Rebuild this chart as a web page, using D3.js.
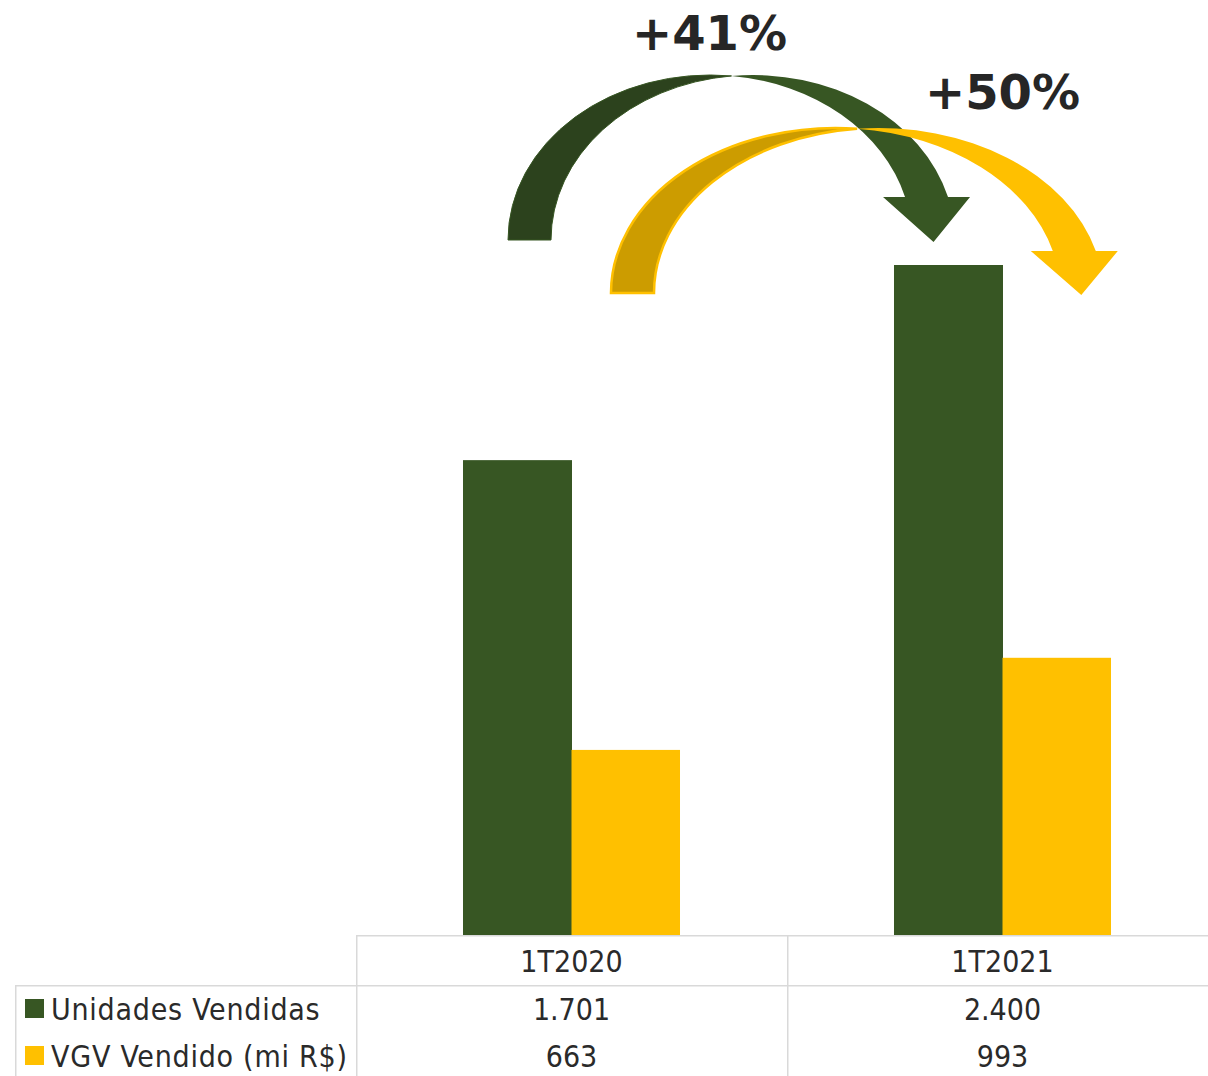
<!DOCTYPE html>
<html>
<head>
<meta charset="utf-8">
<script src="https://cdn.jsdelivr.net/npm/d3@7"></script>
<style>
  html, body { margin: 0; padding: 0; background: #ffffff; }
  svg { display: block; }
  .tbl { font-family: "DejaVu Sans", sans-serif; font-stretch: condensed; font-size: 30px; fill: #2a2a2a; }
  .leg { letter-spacing: 0.75px; }
  .pct { font-family: "DejaVu Sans", sans-serif; font-weight: bold; font-size: 48px; fill: #262626; }
</style>
</head>
<body>
<svg id="chart" width="1208" height="1076"></svg>
<script>
// ---- data ----
const categories = ["1T2020", "1T2021"];
const seriesNames = ["Unidades Vendidas", "VGV Vendido (mi R$)"];
const unidadesVendidas = [1701, 2400];
const vgvVendido = [663, 993];
const growthLabels = ["+41%", "+50%"];

// ---- styling ----
const seriesColors = ["#375623", "#ffc000"];
const backColors = ["#2c421d", "#cc9c00"];
const backStroke = ["#375623", "#ffc000"];

const W = 1208, H = 1076;
const svg = d3.select("#chart");

const baseY = 935;
const pxPerUnit = 670 / 2400;
const yMax = 3000;
const y = d3.scaleLinear().domain([0, yMax]).range([baseY, baseY - yMax * pxPerUnit]);

const colLeft = 356, colStep = 431;
const x0 = d3.scaleBand().domain(categories)
  .range([colLeft, colLeft + colStep * categories.length])
  .paddingInner(0.4965).paddingOuter(0.4965 / 2);
const x1 = d3.scaleBand().domain(seriesNames).range([0, x0.bandwidth()]);

const seriesValues = [unidadesVendidas, vgvVendido];
const fmt = d3.formatLocale({ decimal: ",", thousands: ".", grouping: [3], currency: ["R$", ""] }).format(",");

// ---- bars ----
const gBars = svg.append("g");
categories.forEach((c, i) => {
  seriesNames.forEach((s, j) => {
    const v = seriesValues[j][i];
    gBars.append("rect")
      .attr("x", x0(c) + x1(s))
      .attr("y", y(v))
      .attr("width", x1.bandwidth() + (j === 0 ? 0.5 : 0))
      .attr("height", y(0) - y(v))
      .attr("fill", seriesColors[j]);
  });
});

// ---- data table ----
const gridColor = "#d9d9d9";
const tRow1 = 985;
const gT = svg.append("g");
gT.append("line").attr("x1", colLeft).attr("x2", W).attr("y1", baseY + 0.75).attr("y2", baseY + 0.75)
  .attr("stroke", gridColor).attr("stroke-width", 1.5);
gT.append("line").attr("x1", 15).attr("x2", W).attr("y1", tRow1 + 0.75).attr("y2", tRow1 + 0.75)
  .attr("stroke", gridColor).attr("stroke-width", 1.5);
gT.append("line").attr("x1", 15.75).attr("x2", 15.75).attr("y1", tRow1).attr("y2", H)
  .attr("stroke", gridColor).attr("stroke-width", 1.5);
[colLeft, colLeft + colStep].forEach(xx => {
  gT.append("line").attr("x1", xx + 0.75).attr("x2", xx + 0.75).attr("y1", baseY).attr("y2", H)
    .attr("stroke", gridColor).attr("stroke-width", 1.5);
});

const colCenter = c => x0(c) + x0.bandwidth() / 2;
categories.forEach(c => {
  gT.append("text").attr("class", "tbl").attr("x", colCenter(c)).attr("y", 972)
    .attr("text-anchor", "middle").text(c);
});
const rowBase = [1020, 1067];
seriesNames.forEach((s, j) => {
  gT.append("rect").attr("x", 25).attr("y", rowBase[j] - 21).attr("width", 19).attr("height", 19)
    .attr("fill", seriesColors[j]);
  gT.append("text").attr("class", "tbl leg").attr("x", 51).attr("y", rowBase[j]).text(s);
  categories.forEach((c, i) => {
    gT.append("text").attr("class", "tbl").attr("x", colCenter(c)).attr("y", rowBase[j])
      .attr("text-anchor", "middle").text(fmt(seriesValues[j][i]));
  });
});

// ---- curved arrows (annotation shapes) ----
const arrows = [
  { c1: 710, R: 202, V: 165, Y0: 240, th: 43, baseY: 197, headExt: 22, tipDx: 7, tipY: 242 },
  { c1: 835.6, R: 224.6, V: 165, Y0: 293, th: 43, baseY: 251, headExt: 22, tipDx: 7, tipY: 295 }
];
const gA = svg.append("g");
arrows.forEach((a, k) => {
  const px = a.c1 + a.th / 2;
  const py = a.Y0 - a.V * Math.sqrt(1 - Math.pow((a.th / 2) / a.R, 2));
  const f = Math.sqrt(1 - Math.pow((a.Y0 - a.baseY) / a.V, 2));
  const sIn = a.c1 + a.R * f;
  const sOut = a.c1 + a.th + a.R * f;
  const back = `M${a.c1 - a.R},${a.Y0} A${a.R},${a.V} 0 0 1 ${px},${py} A${a.R},${a.V} 0 0 0 ${a.c1 + a.th - a.R},${a.Y0} Z`;
  const front = `M${px},${py} A${a.R},${a.V} 0 0 1 ${sOut},${a.baseY} L${sOut + a.headExt},${a.baseY} ` +
    `L${(sIn + sOut) / 2 + a.tipDx},${a.tipY} L${sIn - a.headExt},${a.baseY} L${sIn},${a.baseY} ` +
    `A${a.R},${a.V} 0 0 0 ${px},${py} Z`;
  gA.append("path").attr("d", back).attr("fill", backColors[k])
    .attr("stroke", backStroke[k]).attr("stroke-width", k === 0 ? 1 : 2.5);
  gA.append("path").attr("d", front).attr("fill", seriesColors[k]);
});

// ---- growth labels ----
const labelPos = [[709.5, 50], [1002.5, 109]];
growthLabels.forEach((t, i) => {
  svg.append("text").attr("class", "pct").attr("x", labelPos[i][0]).attr("y", labelPos[i][1])
    .attr("text-anchor", "middle").text(t);
});
</script>
</body>
</html>
